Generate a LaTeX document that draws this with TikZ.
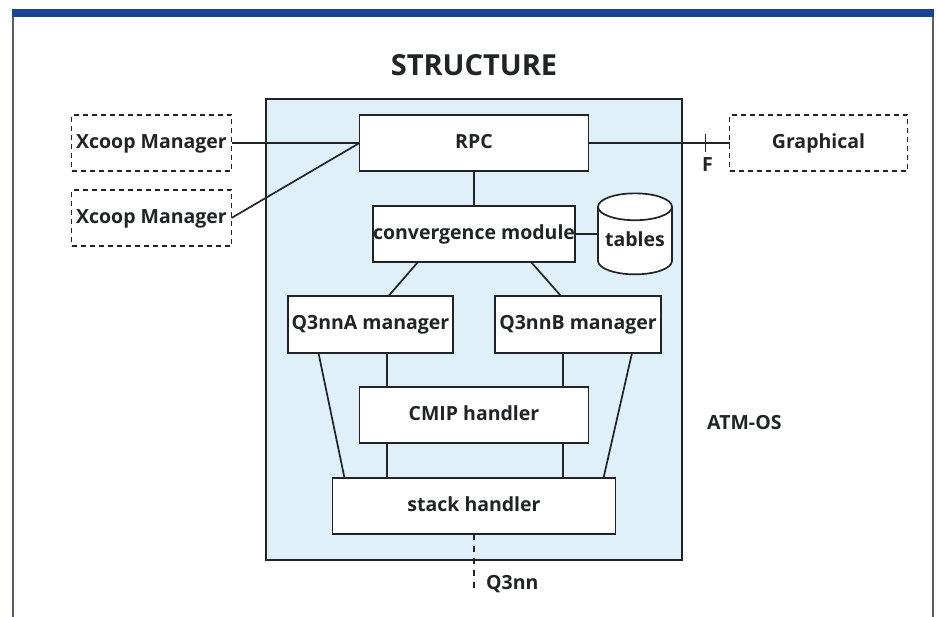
\documentclass[tikz,border=0pt]{standalone}
\usepackage{fontspec}
\setmainfont{Open Sans}
\usepackage{xcolor}
\usetikzlibrary{positioning,shapes.geometric,calc}
\definecolor{atmblue}{RGB}{224,240,248}
\definecolor{bandblue}{RGB}{24,68,150}
\definecolor{framegrey}{RGB}{90,94,100}
\definecolor{inkgrey}{RGB}{32,36,38}
\tikzstyle{modbox} = [rectangle, draw=inkgrey, fill=white, line width=1.7pt, inner sep=0pt, outer sep=0pt, text centered, text=inkgrey, text height=14.5pt, text depth=4pt, font=\fontsize{19.5}{22}\selectfont\bfseries]
\tikzstyle{extbox} = [modbox, dash pattern=on 5pt off 4pt, fill=none, minimum width=160pt, minimum height=56pt]
\tikzstyle{link} = [line width=1.7pt, color=inkgrey]
\tikzstyle{tag} = [text=inkgrey, inner sep=0pt, font=\fontsize{19.5}{22}\selectfont\bfseries]
\begin{document}
\begin{tikzpicture}[x=1pt,y=-1pt]
\useasboundingbox (0,0) rectangle (939,617);
% Page frame
\draw[framegrey, line width=1.2pt] (13,617) -- (13,13) -- (933,13) -- (933,617);
\fill[bandblue] (12,9) rectangle (934,17);

% ATM-OS area
\node[rectangle, draw=inkgrey, fill=atmblue, line width=1.7pt, inner sep=0pt, outer sep=0pt, minimum width=416pt, minimum height=461pt] (atm) at (474,329.5) {};
\node[tag, font=\fontsize{29}{32}\selectfont\bfseries, above=23pt of atm.north] (title) {STRUCTURE};
\node[tag, right=25pt of atm.east, yshift=-93.5pt] (atmos) {ATM-OS};

% Modules
\node[modbox, below=16pt of atm.north, minimum width=229pt, minimum height=56pt] (rpc) {RPC};
\node[modbox, below=35pt of rpc, minimum width=202pt, minimum height=56pt] (conv) {convergence module};
\node[modbox, cylinder, shape border rotate=90, aspect=0.45, cylinder uses custom fill, cylinder body fill=white, cylinder end fill=white, right=23pt of conv, yshift=-7pt, minimum width=74pt, minimum height=81pt] (tables) {tables};
\node[modbox, below left=34pt and -80pt of conv, minimum width=165pt, minimum height=57pt] (qa) {Q3nnA manager};
\node[modbox, below right=34pt and -80pt of conv, minimum width=166pt, minimum height=57pt] (qb) {Q3nnB manager};
\node[modbox, below=125pt of conv, minimum width=229pt, minimum height=56pt] (cmip) {CMIP handler};
\node[modbox, below=35pt of cmip, minimum width=283pt, minimum height=56pt] (stack) {stack handler};

% Outside the area
\node[extbox, left=128pt of rpc] (xone) {Xcoop Manager};
\node[extbox, below=19pt of xone] (xtwo) {Xcoop Manager};
\node[extbox, right=141pt of rpc, minimum width=178pt] (graph) {Graphical};

\draw[link] (xone) -- (rpc);
\draw[link] (xtwo.east) -- (rpc.west);
\draw[link] (rpc) -- (graph);
\draw[link] (rpc) -- (conv);
\draw[link] (conv.east) -- (conv.east -| tables.west);
\draw[link] ([xshift=-56pt]conv.south) -- ([xshift=18pt]qa.north);
\draw[link] ([xshift=57pt]conv.south) -- ([xshift=-17pt]qb.north);
\draw[link] ([xshift=16.5pt]qa.south) -- ([xshift=16.5pt]qa.south |- cmip.north);
\draw[link] ([xshift=16.5pt]qa.south |- cmip.south) -- ([xshift=16.5pt]qa.south |- stack.north);
\draw[link] ([xshift=-15pt]qb.south) -- ([xshift=-15pt]qb.south |- cmip.north);
\draw[link] ([xshift=-15pt]qb.south |- cmip.south) -- ([xshift=-15pt]qb.south |- stack.north);
\draw[link] ([xshift=-52pt]qa.south) -- ([xshift=12pt]stack.north west);
\draw[link] ([xshift=54pt]qb.south) -- ([xshift=-12pt]stack.north east);

% F interface
\coordinate[right=117pt of rpc.east] (ftick);
\draw[link, line width=1.5pt] ([yshift=-9pt]ftick) -- ([yshift=9pt]ftick);
\node[tag, below=14pt of ftick, xshift=2pt] (flabel) {F};

% Q3nn interface
\coordinate[below=59pt of stack.south] (qend);
\draw[link, dash pattern=on 6pt off 6pt] (stack.south) -- (qend);
\node[tag, right=12pt of qend, yshift=9pt] (qlabel) {Q3nn};
\end{tikzpicture}
\end{document}
